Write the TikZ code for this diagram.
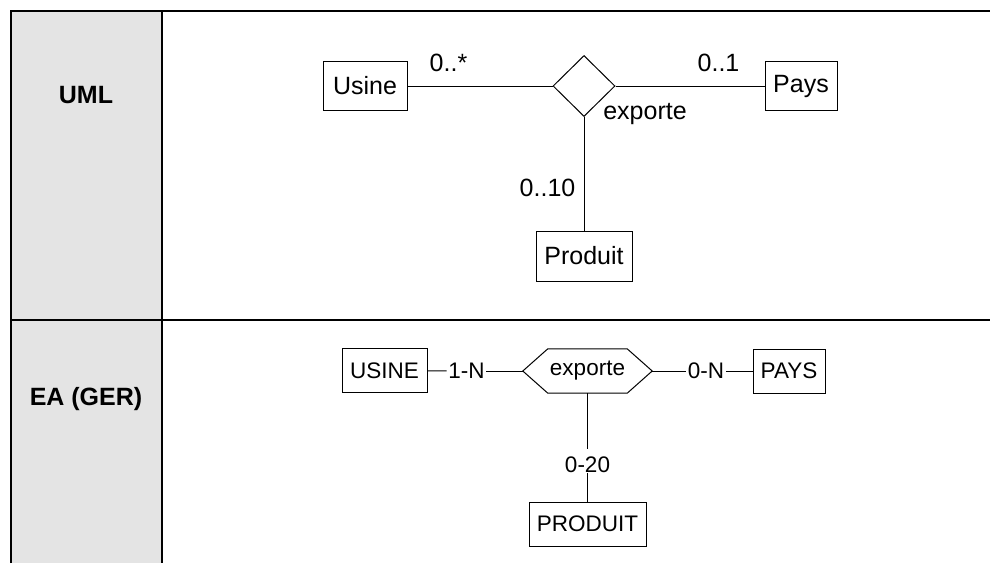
\documentclass[tikz,border=0pt]{standalone}
\usepackage{fontspec}
\setmainfont{Liberation Sans}
\usetikzlibrary{shapes.geometric,calc}
\definecolor{headgrey}{HTML}{E4E4E4}
\begin{document}
\begin{tikzpicture}[x=1pt,y=-1pt,
  frame/.style={line width=2pt},
  head/.style={font=\fontsize{25}{30}\selectfont\bfseries},
  umltext/.style={font=\fontsize{25}{30}\selectfont},
  eatext/.style={font=\fontsize{22.5}{27}\selectfont},
  entity/.style={draw, line width=1pt, inner sep=0pt},
  link/.style={line width=1pt},
  card/.style={eatext, inner xsep=1.5pt, inner ysep=0pt}
]
\useasboundingbox (0,0) rectangle (990,563);

% table: grey heading column and rules
\fill[headgrey] (11,11) rectangle (162,563);
\draw[frame] (11,563) -- (11,11) -- (990,11);
\draw[frame] (162,11) -- (162,563);
\draw[frame] (11,320) -- (990,320);

\node[head] (hUML) at (86,95) {UML};
\node[head] (hEA) at (86,399) {EA (GER)};

% UML association
\node[entity, umltext, minimum width=84pt, minimum height=49pt] (usine) at (365,86) {Usine};
\node[draw, diamond, line width=1pt, inner sep=0pt, minimum width=62pt, minimum height=61pt] (rel) at (584,86) {};
\node[entity, umltext, minimum width=72pt, minimum height=49pt] (pays) at (801,86) {Pays};
\node[entity, umltext, minimum width=96pt, minimum height=50pt] (produit) at (584,256) {Produit};

\draw[link] (usine) -- (rel);
\draw[link] (rel) -- (pays);
\draw[link] (rel) -- (produit);

\node[umltext] (mUsine) at (448.5,62.5) {0..*};
\node[umltext] (mPays) at (718.5,63) {0..1};
\node[umltext] (mProduit) at (547.5,187.5) {0..10};
\node[umltext] (relname) at (645,114.5) {exporte};

% EA (GER) relationship
\node[entity, eatext, minimum width=85pt, minimum height=44pt] (usineEA) at (384.5,370.5) {USINE};
\node[eatext, inner sep=0pt, minimum width=129pt, minimum height=44pt] (hex) at (587.5,371) {exporte};
\draw[link] (hex.west) -- ($(hex.north west)+(25,0)$) -- ($(hex.north east)+(-25,0)$)
  -- (hex.east) -- ($(hex.south east)+(-25,0)$) -- ($(hex.south west)+(25,0)$) -- cycle;
\node[entity, eatext, minimum width=72pt, minimum height=44pt] (paysEA) at (789,371) {PAYS};
\node[entity, eatext, minimum width=117pt, minimum height=44pt] (produitEA) at (587.5,524) {PRODUIT};

\node[card] (cUsine) at (466.5,371) {1-N};
\node[card] (cPays) at (706,371) {0-N};
\node[card, text height=22pt, text depth=0pt, inner ysep=1pt] (cProduit) at (587.5,461) {0-20};

\draw[link] (usineEA) -- (cUsine);
\draw[link] (cUsine) -- (hex);
\draw[link] (hex) -- (cPays);
\draw[link] (cPays) -- (paysEA);
\draw[link] (hex) -- (cProduit);
\draw[link] (cProduit) -- (produitEA);
\end{tikzpicture}
\end{document}
